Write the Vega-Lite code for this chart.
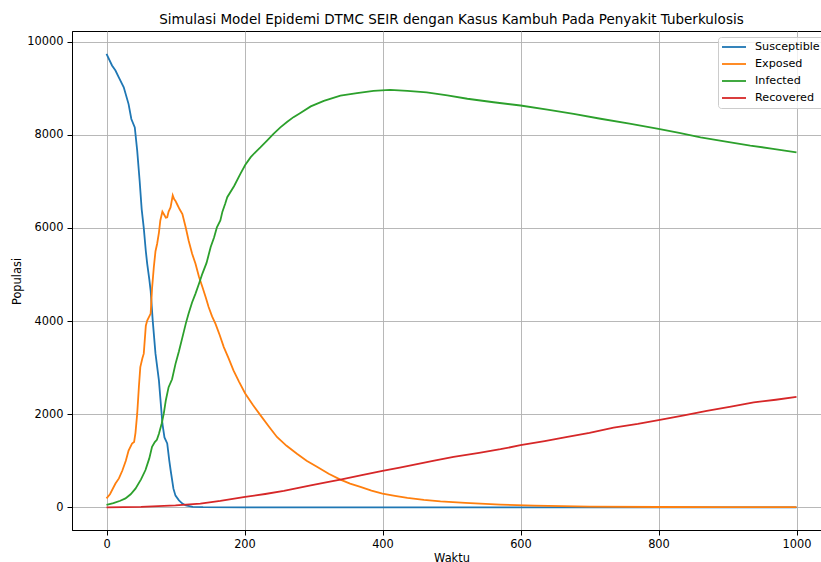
{
  "$schema": "https://vega.github.io/schema/vega-lite/v6.json",
  "autosize": {"type": "none"},
  "padding": {"left": 72, "top": 31, "right": 0, "bottom": 32},
  "width": 759,
  "height": 499,
  "background": "white",
  "config": {
    "font": "DejaVu Sans",
    "view": {"stroke": "black", "strokeWidth": 1},
    "title": {"fontSize": 13.5, "fontWeight": "normal", "color": "black", "anchor": "middle", "baseline": "alphabetic", "offset": 4.5, "frame": "group"},
    "axis": {
      "labelFontSize": 11.4, "labelColor": "black", "labelFont": "DejaVu Sans",
      "titleFontSize": 11.4, "titleFontWeight": "normal", "titleColor": "black", "titleFont": "DejaVu Sans",
      "tickSize": 5, "tickColor": "black", "tickWidth": 1,
      "domainColor": "black", "domainWidth": 1,
      "gridColor": "#b0b0b0", "gridWidth": 0.9, "gridOpacity": 1
    },
    "legend": {
      "labelFontSize": 11.2, "labelColor": "black", "labelFont": "DejaVu Sans"
    }
  },
  "title": {"text": "Simulasi Model Epidemi DTMC SEIR dengan Kasus Kambuh Pada Penyakit Tuberkulosis"},
  "data": {"values": [
    {"s":"Susceptible","t":0,"v":9740},{"s":"Susceptible","t":8,"v":9490},{"s":"Susceptible","t":13,"v":9380},{"s":"Susceptible","t":18,"v":9230},{"s":"Susceptible","t":25,"v":9020},{"s":"Susceptible","t":32,"v":8660},{"s":"Susceptible","t":36,"v":8340},{"s":"Susceptible","t":41,"v":8160},{"s":"Susceptible","t":44.5,"v":7660},{"s":"Susceptible","t":48,"v":7020},{"s":"Susceptible","t":51,"v":6400},{"s":"Susceptible","t":54,"v":6000},{"s":"Susceptible","t":57,"v":5500},{"s":"Susceptible","t":59,"v":5230},{"s":"Susceptible","t":62,"v":4900},{"s":"Susceptible","t":64,"v":4650},{"s":"Susceptible","t":67,"v":4010},{"s":"Susceptible","t":71,"v":3300},{"s":"Susceptible","t":76,"v":2720},{"s":"Susceptible","t":81,"v":1800},{"s":"Susceptible","t":84,"v":1500},{"s":"Susceptible","t":88,"v":1370},{"s":"Susceptible","t":91,"v":1000},{"s":"Susceptible","t":93,"v":790},{"s":"Susceptible","t":97,"v":400},{"s":"Susceptible","t":100,"v":250},{"s":"Susceptible","t":105,"v":150},{"s":"Susceptible","t":110,"v":80},{"s":"Susceptible","t":115,"v":40},{"s":"Susceptible","t":125,"v":10},{"s":"Susceptible","t":140,"v":3},{"s":"Susceptible","t":200,"v":0},{"s":"Susceptible","t":1000,"v":0},
    {"s":"Exposed","t":0,"v":190},{"s":"Exposed","t":5,"v":280},{"s":"Exposed","t":13,"v":510},{"s":"Exposed","t":18,"v":620},{"s":"Exposed","t":23,"v":790},{"s":"Exposed","t":28,"v":1000},{"s":"Exposed","t":32,"v":1220},{"s":"Exposed","t":37,"v":1370},{"s":"Exposed","t":40,"v":1400},{"s":"Exposed","t":42,"v":1600},{"s":"Exposed","t":44.5,"v":2010},{"s":"Exposed","t":47,"v":2600},{"s":"Exposed","t":49,"v":3010},{"s":"Exposed","t":52,"v":3200},{"s":"Exposed","t":54,"v":3300},{"s":"Exposed","t":57,"v":3900},{"s":"Exposed","t":59,"v":4010},{"s":"Exposed","t":64,"v":4160},{"s":"Exposed","t":66,"v":4700},{"s":"Exposed","t":68.6,"v":5160},{"s":"Exposed","t":71,"v":5500},{"s":"Exposed","t":73.4,"v":5660},{"s":"Exposed","t":76,"v":5900},{"s":"Exposed","t":78,"v":6160},{"s":"Exposed","t":81,"v":6350},{"s":"Exposed","t":83,"v":6300},{"s":"Exposed","t":86,"v":6220},{"s":"Exposed","t":88,"v":6230},{"s":"Exposed","t":90,"v":6350},{"s":"Exposed","t":92.8,"v":6440},{"s":"Exposed","t":96,"v":6700},{"s":"Exposed","t":98,"v":6620},{"s":"Exposed","t":100,"v":6580},{"s":"Exposed","t":102,"v":6520},{"s":"Exposed","t":106,"v":6400},{"s":"Exposed","t":110,"v":6300},{"s":"Exposed","t":115,"v":6000},{"s":"Exposed","t":119,"v":5730},{"s":"Exposed","t":124,"v":5450},{"s":"Exposed","t":129,"v":5230},{"s":"Exposed","t":134,"v":4950},{"s":"Exposed","t":139,"v":4730},{"s":"Exposed","t":144,"v":4500},{"s":"Exposed","t":148,"v":4300},{"s":"Exposed","t":153,"v":4100},{"s":"Exposed","t":158,"v":3940},{"s":"Exposed","t":164,"v":3700},{"s":"Exposed","t":170,"v":3440},{"s":"Exposed","t":177,"v":3200},{"s":"Exposed","t":184,"v":2940},{"s":"Exposed","t":192,"v":2700},{"s":"Exposed","t":201,"v":2445},{"s":"Exposed","t":212,"v":2200},{"s":"Exposed","t":223,"v":1980},{"s":"Exposed","t":235,"v":1740},{"s":"Exposed","t":247,"v":1510},{"s":"Exposed","t":261,"v":1320},{"s":"Exposed","t":276,"v":1150},{"s":"Exposed","t":290,"v":1000},{"s":"Exposed","t":305,"v":870},{"s":"Exposed","t":322,"v":720},{"s":"Exposed","t":339,"v":595},{"s":"Exposed","t":353,"v":510},{"s":"Exposed","t":368,"v":437},{"s":"Exposed","t":384,"v":360},{"s":"Exposed","t":400,"v":294},{"s":"Exposed","t":418,"v":245},{"s":"Exposed","t":436,"v":200},{"s":"Exposed","t":460,"v":160},{"s":"Exposed","t":484,"v":129},{"s":"Exposed","t":520,"v":95},{"s":"Exposed","t":571,"v":58},{"s":"Exposed","t":620,"v":35},{"s":"Exposed","t":700,"v":15},{"s":"Exposed","t":800,"v":6},{"s":"Exposed","t":900,"v":3},{"s":"Exposed","t":1000,"v":2},
    {"s":"Infected","t":0,"v":50},{"s":"Infected","t":10,"v":90},{"s":"Infected","t":20,"v":140},{"s":"Infected","t":27.5,"v":190},{"s":"Infected","t":35,"v":280},{"s":"Infected","t":42,"v":400},{"s":"Infected","t":50,"v":600},{"s":"Infected","t":56.5,"v":800},{"s":"Infected","t":62,"v":1050},{"s":"Infected","t":66,"v":1300},{"s":"Infected","t":70,"v":1400},{"s":"Infected","t":73,"v":1450},{"s":"Infected","t":76,"v":1580},{"s":"Infected","t":80,"v":1800},{"s":"Infected","t":83,"v":2010},{"s":"Infected","t":86,"v":2300},{"s":"Infected","t":90,"v":2580},{"s":"Infected","t":95,"v":2750},{"s":"Infected","t":100,"v":3080},{"s":"Infected","t":105,"v":3350},{"s":"Infected","t":110,"v":3650},{"s":"Infected","t":115,"v":3950},{"s":"Infected","t":119,"v":4160},{"s":"Infected","t":124,"v":4400},{"s":"Infected","t":129,"v":4590},{"s":"Infected","t":134,"v":4800},{"s":"Infected","t":139,"v":5020},{"s":"Infected","t":145,"v":5250},{"s":"Infected","t":151,"v":5590},{"s":"Infected","t":156,"v":5800},{"s":"Infected","t":160,"v":6015},{"s":"Infected","t":165,"v":6160},{"s":"Infected","t":168,"v":6350},{"s":"Infected","t":172,"v":6520},{"s":"Infected","t":175,"v":6660},{"s":"Infected","t":185,"v":6900},{"s":"Infected","t":194,"v":7160},{"s":"Infected","t":201,"v":7350},{"s":"Infected","t":209,"v":7520},{"s":"Infected","t":216,"v":7630},{"s":"Infected","t":223,"v":7730},{"s":"Infected","t":233,"v":7880},{"s":"Infected","t":242,"v":8020},{"s":"Infected","t":252,"v":8160},{"s":"Infected","t":262,"v":8280},{"s":"Infected","t":271,"v":8380},{"s":"Infected","t":281,"v":8470},{"s":"Infected","t":296,"v":8610},{"s":"Infected","t":315,"v":8730},{"s":"Infected","t":339,"v":8840},{"s":"Infected","t":363,"v":8895},{"s":"Infected","t":387,"v":8945},{"s":"Infected","t":411,"v":8965},{"s":"Infected","t":436,"v":8945},{"s":"Infected","t":464,"v":8910},{"s":"Infected","t":494,"v":8845},{"s":"Infected","t":523,"v":8775},{"s":"Infected","t":561,"v":8700},{"s":"Infected","t":600,"v":8630},{"s":"Infected","t":639,"v":8540},{"s":"Infected","t":677,"v":8450},{"s":"Infected","t":716,"v":8345},{"s":"Infected","t":758,"v":8240},{"s":"Infected","t":800,"v":8126},{"s":"Infected","t":830,"v":8040},{"s":"Infected","t":861,"v":7946},{"s":"Infected","t":900,"v":7850},{"s":"Infected","t":933,"v":7768},{"s":"Infected","t":966,"v":7700},{"s":"Infected","t":1000,"v":7625},
    {"s":"Recovered","t":0,"v":0},{"s":"Recovered","t":50,"v":8},{"s":"Recovered","t":100,"v":40},{"s":"Recovered","t":136,"v":80},{"s":"Recovered","t":165,"v":136},{"s":"Recovered","t":201,"v":222},{"s":"Recovered","t":230,"v":285},{"s":"Recovered","t":257,"v":351},{"s":"Recovered","t":280,"v":420},{"s":"Recovered","t":296,"v":473},{"s":"Recovered","t":320,"v":540},{"s":"Recovered","t":339,"v":595},{"s":"Recovered","t":370,"v":690},{"s":"Recovered","t":400,"v":781},{"s":"Recovered","t":425,"v":850},{"s":"Recovered","t":450,"v":925},{"s":"Recovered","t":475,"v":1000},{"s":"Recovered","t":503,"v":1082},{"s":"Recovered","t":540,"v":1170},{"s":"Recovered","t":571,"v":1247},{"s":"Recovered","t":600,"v":1333},{"s":"Recovered","t":635,"v":1420},{"s":"Recovered","t":668,"v":1512},{"s":"Recovered","t":700,"v":1600},{"s":"Recovered","t":735,"v":1712},{"s":"Recovered","t":770,"v":1790},{"s":"Recovered","t":800,"v":1870},{"s":"Recovered","t":835,"v":1970},{"s":"Recovered","t":870,"v":2070},{"s":"Recovered","t":905,"v":2160},{"s":"Recovered","t":938,"v":2251},{"s":"Recovered","t":970,"v":2310},{"s":"Recovered","t":1000,"v":2372}
  ]},
  "mark": {"type": "line", "strokeWidth": 1.8, "clip": true},
  "encoding": {
    "x": {"field": "t", "type": "quantitative",
      "scale": {"domain": [-50, 1050], "nice": false, "zero": false},
      "axis": {"values": [0, 200, 400, 600, 800, 1000], "format": "d", "title": "Waktu", "labelPadding": 3, "titleY": 31.5, "titleBaseline": "alphabetic", "titleX": 379.5, "titleAlign": "center"}},
    "y": {"field": "v", "type": "quantitative",
      "scale": {"domain": [-488, 10230], "nice": false, "zero": false},
      "axis": {"values": [0, 2000, 4000, 6000, 8000, 10000], "format": "d", "title": "Populasi", "labelPadding": 4, "titleX": -51.5, "titleY": 250, "titleAngle": -90, "titleBaseline": "alphabetic", "titleAlign": "center"}},
    "color": {"field": "s", "type": "nominal",
      "scale": {"domain": ["Susceptible", "Exposed", "Infected", "Recovered"], "range": ["#1f77b4", "#ff7f0e", "#2ca02c", "#d62728"]},
      "legend": {"title": null, "orient": "none", "legendX": 646, "legendY": 6, "direction": "vertical",
        "strokeColor": "#cccccc", "fillColor": "rgba(255,255,255,0.8)", "cornerRadius": 3, "padding": 4,
        "symbolType": "M-1.2,0H3.6", "symbolSize": 100, "symbolStrokeWidth": 1.8, "labelOffset": 21, "rowPadding": 5}},
    "order": {"field": "t", "type": "quantitative"}
  }
}
